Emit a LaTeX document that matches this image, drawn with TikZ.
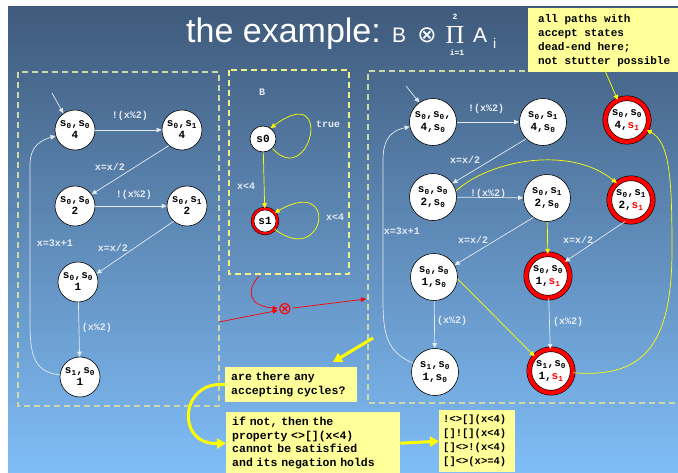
\documentclass[tikz,border=0pt]{standalone}
\usepackage{fontspec}
\setmainfont{Liberation Sans}
\newfontfamily\cour{Liberation Mono}
\newfontfamily\dejav{DejaVu Sans}
\newfontfamily\serifz{Liberation Serif}
\usetikzlibrary{arrows.meta}
\definecolor{bgtop}{HTML}{3F5A7B}
\definecolor{bgbot}{HTML}{80BDF7}
\definecolor{notefill}{HTML}{FFFF99}
\definecolor{dashc}{HTML}{CDD9A6}
\definecolor{dashy}{HTML}{F2F28C}
\definecolor{wline}{HTML}{E4EAF2}
\definecolor{ylw}{HTML}{FFFF00}
\newcommand\sZ{s\textsubscript{0}}
\newcommand\sO{s\textsubscript{1}}
\newcommand\rO{\textcolor{red}{s\textsubscript{1}}}
\begin{document}
\begin{tikzpicture}[x=1pt,y=-1pt,
  st/.style={circle,draw=black,line width=0.6pt,fill=white,minimum size=40pt,inner sep=0pt,align=center,font=\cour\bfseries\fontsize{11}{12}\selectfont},
  bst/.style={st,minimum size=47pt,font=\cour\bfseries\fontsize{11}{13}\selectfont},
  acc/.style={bst,minimum size=43.5pt,double=red,double distance=4.3pt},
  lbl/.style={font=\cour\bfseries\fontsize{10}{12}\selectfont,text=wline,inner sep=1pt},
  wedge/.style={draw=wline,line width=0.7pt,-{Triangle[length=5pt,width=4.5pt]}},
  yedge/.style={draw=ylw,line width=0.7pt,-{Triangle[length=5pt,width=4.5pt]}},
  redge/.style={draw=red,line width=0.7pt,-{Triangle[length=5pt,width=4.5pt]}},
  yarrow/.style={draw=ylw,line width=3pt,-{Triangle[length=9pt,width=10pt]}},
  dbox/.style={draw=dashc,line width=1.3pt,dash pattern=on 6pt off 4pt},
  notebox/.style={fill=notefill,anchor=north west,align=left,inner ysep=0pt,font=\cour\bfseries\fontsize{11}{14}\selectfont},
  ttl/.style={text=white,inner sep=0pt}
]
\useasboundingbox (0,0) rectangle (678,472);
\fill[white] (0,0) rectangle (678,472);
\shade[top color=bgtop,bottom color=bgbot] (8,6) rectangle (678,472);

% title
\node[ttl,anchor=base west,font=\fontsize{34}{34}\selectfont] (t1) at (186,42) {the example:};
\node[ttl,anchor=base west,font=\fontsize{21}{21}\selectfont] (t2) at (392,42) {B};
\node[ttl,font=\dejav\fontsize{23}{23}\selectfont] (t3) at (427,35) {⊗};
\node[ttl,anchor=base,font=\serifz\fontsize{26}{26}\selectfont] (t4) at (455,43) {Π};
\node[ttl,font=\cour\bfseries\fontsize{8}{8}\selectfont] (t5) at (455,17) {2};
\node[ttl,font=\cour\bfseries\fontsize{8}{8}\selectfont] (t6) at (457,53) {i=1};
\node[ttl,anchor=base west,font=\fontsize{21}{21}\selectfont] (t7) at (473,42) {A};
\node[ttl,anchor=base west,font=\fontsize{14}{14}\selectfont] (t8) at (493,48) {i};

% dashed boxes
\draw[dbox] (18,72) rectangle (219,406);
\draw[dbox,draw=dashy] (229,70) rectangle (349,274);
\draw[dbox] (685,403) -- (368,403) -- (368,71) -- (685,71);

% top note
\node[notebox,minimum width=152pt,minimum height=64pt,inner xsep=6pt] (n1) at (528,8) {all paths with\\accept states\\dead-end here;\\not stutter possible};

% left automaton
\node[st] (L1) at (75,130) {\sZ,\sZ\\4};
\node[st] (L2) at (182,130) {\sZ,\sO\\4};
\node[st] (L3) at (75,206) {\sZ,\sZ\\2};
\node[st] (L4) at (187,206) {\sZ,\sO\\2};
\node[st] (L5) at (78,282) {\sZ,\sZ\\1};
\node[st] (L6) at (80,377) {\sO,\sZ\\1};
\coordinate (iL) at (52,93);
\draw[wedge] (iL) -- (L1.125);
\draw[wedge] (L1) -- (L2);
\draw[wedge] (L2.230) -- (L3.35);
\draw[wedge] (L3) -- (L4);
\draw[wedge] (L4.229) -- (L5.24);
\draw[wedge] (L5) -- (L6);
\draw[wedge] (L6) .. controls (32,372) and (30,352) .. (30,320) -- (30,165) .. controls (30,145) and (42,140) .. (L1);
\node[lbl] (a1) at (130,116) {!(x\%2)};
\node[lbl] (a2) at (110,167) {x=x/2};
\node[lbl] (a3) at (134,195) {!(x\%2)};
\node[lbl] (a4) at (113,248) {x=x/2};
\node[lbl] (a5) at (97,328) {(x\%2)};
\node[lbl] (a6) at (55,243) {x=3x+1};

% middle automaton B
\node[lbl] (bB) at (262,92) {B};
\node[st,minimum size=26pt] (b0) at (263,139) {s0};
\node[st,minimum size=25pt,double=red,double distance=2.4pt,line width=0.5pt] (b1) at (265,221) {s1};
\draw[yedge] (b0) -- (b1);
\draw[yedge] (b0.-45) .. controls (310,190) and (335,80) .. (b0.55);
\draw[yedge] (b1.-40) .. controls (325,268) and (340,175) .. (b1.40);
\node[lbl] (b2) at (328,124) {true};
\node[lbl] (b3) at (246,186) {x<4};
\node[lbl] (b4) at (335,217) {x<4};

% product symbol and red arrows
\node[text=red,inner sep=0pt,font=\dejav\fontsize{17}{17}\selectfont] (ot) at (285,309) {⊗};
\coordinate (r1) at (219,322);
\coordinate (r2) at (259,276);
\coordinate (r3) at (366,299);
\draw[redge] (r1) -- (ot);
\draw[redge] (r2) .. controls (246,290) and (248,306) .. (ot);
\draw[redge] (ot) -- (r3);

% right product automaton
\node[bst] (R1) at (433,122) {\sZ,\sZ,\\4,\sZ};
\node[bst] (R2) at (543,122) {\sZ,\sO\\4,\sZ};
\node[acc] (R3) at (627,120) {\sZ,\sZ\\4,\rO};
\node[bst] (R4) at (433,197) {\sZ,\sZ\\2,\sZ};
\node[bst] (R5) at (547,198) {\sZ,\sO\\2,\sZ};
\node[acc] (R6) at (631,200) {\sZ,\sO\\2,\rO};
\node[bst] (R7) at (434,277) {\sZ,\sZ\\1,\sZ};
\node[acc] (R8) at (548,276) {\sZ,\sZ\\1,\rO};
\node[bst] (R9) at (435,372) {\sO,\sZ\\1,\sZ};
\node[acc] (R10) at (551,371) {\sO,\sZ\\1,\rO};
\coordinate (iR) at (406,86);
\draw[wedge] (iR) -- (R1.125);
\draw[wedge] (R1) -- (R2);
\draw[wedge] (R2.225) -- (R4.35);
\draw[wedge] (R4) -- (R5);
\draw[wedge] (R5.235) -- (R7.30);
\draw[wedge] (R6.255) -- (R8.40);
\draw[wedge] (R7) -- (R9);
\draw[wedge] (R8) -- (R10);
\draw[wedge] (R9) .. controls (386,352) and (383,332) .. (383,300) -- (383,160) .. controls (383,136) and (394,130) .. (R1);
\draw[yedge] (R4.15) .. controls (490,160) and (570,145) .. (R6.130);
\draw[yedge] (R5) -- (R8);
\draw[yedge] (R7.-5) -- (R10.138);
\draw[yedge] (R10) .. controls (640,378) and (672,350) .. (672,250) .. controls (672,180) and (670,142) .. (R3);
\coordinate (nq) at (603,66);
\draw[yedge] (nq) -- (R3.115);
\node[lbl] (c1) at (486,109) {!(x\%2)};
\node[lbl] (c2) at (465,160) {x=x/2};
\node[lbl] (c3) at (488,194) {!(x\%2)};
\node[lbl] (c4) at (402,231) {x=3x+1};
\node[lbl] (c5) at (473,240) {x=x/2};
\node[lbl] (c6) at (578,240) {x=x/2};
\node[lbl] (c7) at (452,321) {(x\%2)};
\node[lbl] (c8) at (568,322) {(x\%2)};

% bottom notes
\node[notebox,minimum width=132pt,minimum height=35pt,text width=120pt,inner xsep=6pt,font=\cour\bfseries\fontsize{11.5}{14}\selectfont] (q1) at (225,367) {are there any\\accepting cycles?};
\node[notebox,minimum width=174pt,minimum height=62pt,text width=162pt,inner xsep=6pt,font=\cour\bfseries\fontsize{11.5}{13.5}\selectfont] (q2) at (226,412) {if not, then the\\property <>{}[](x<4)\\cannot be satisfied\\and its negation holds};
\node[notebox,minimum width=76pt,minimum height=62pt,text width=68pt,inner xsep=4pt,font=\cour\bfseries\fontsize{10.5}{14}\selectfont] (fq) at (439,410) {!<>{}[](x<4)\\{}[]![](x<4)\\{}[]<>!(x<4)\\{}[]<>(x>=4)};
\coordinate (ya) at (373,338);
\coordinate (yb) at (333,362);
\draw[yarrow] (ya) -- (yb);
\draw[yarrow] (q1.west) .. controls (180,380) and (175,445) .. (q2.west);
\draw[yarrow] (q2.east) -- (fq.west);
\end{tikzpicture}
\end{document}
